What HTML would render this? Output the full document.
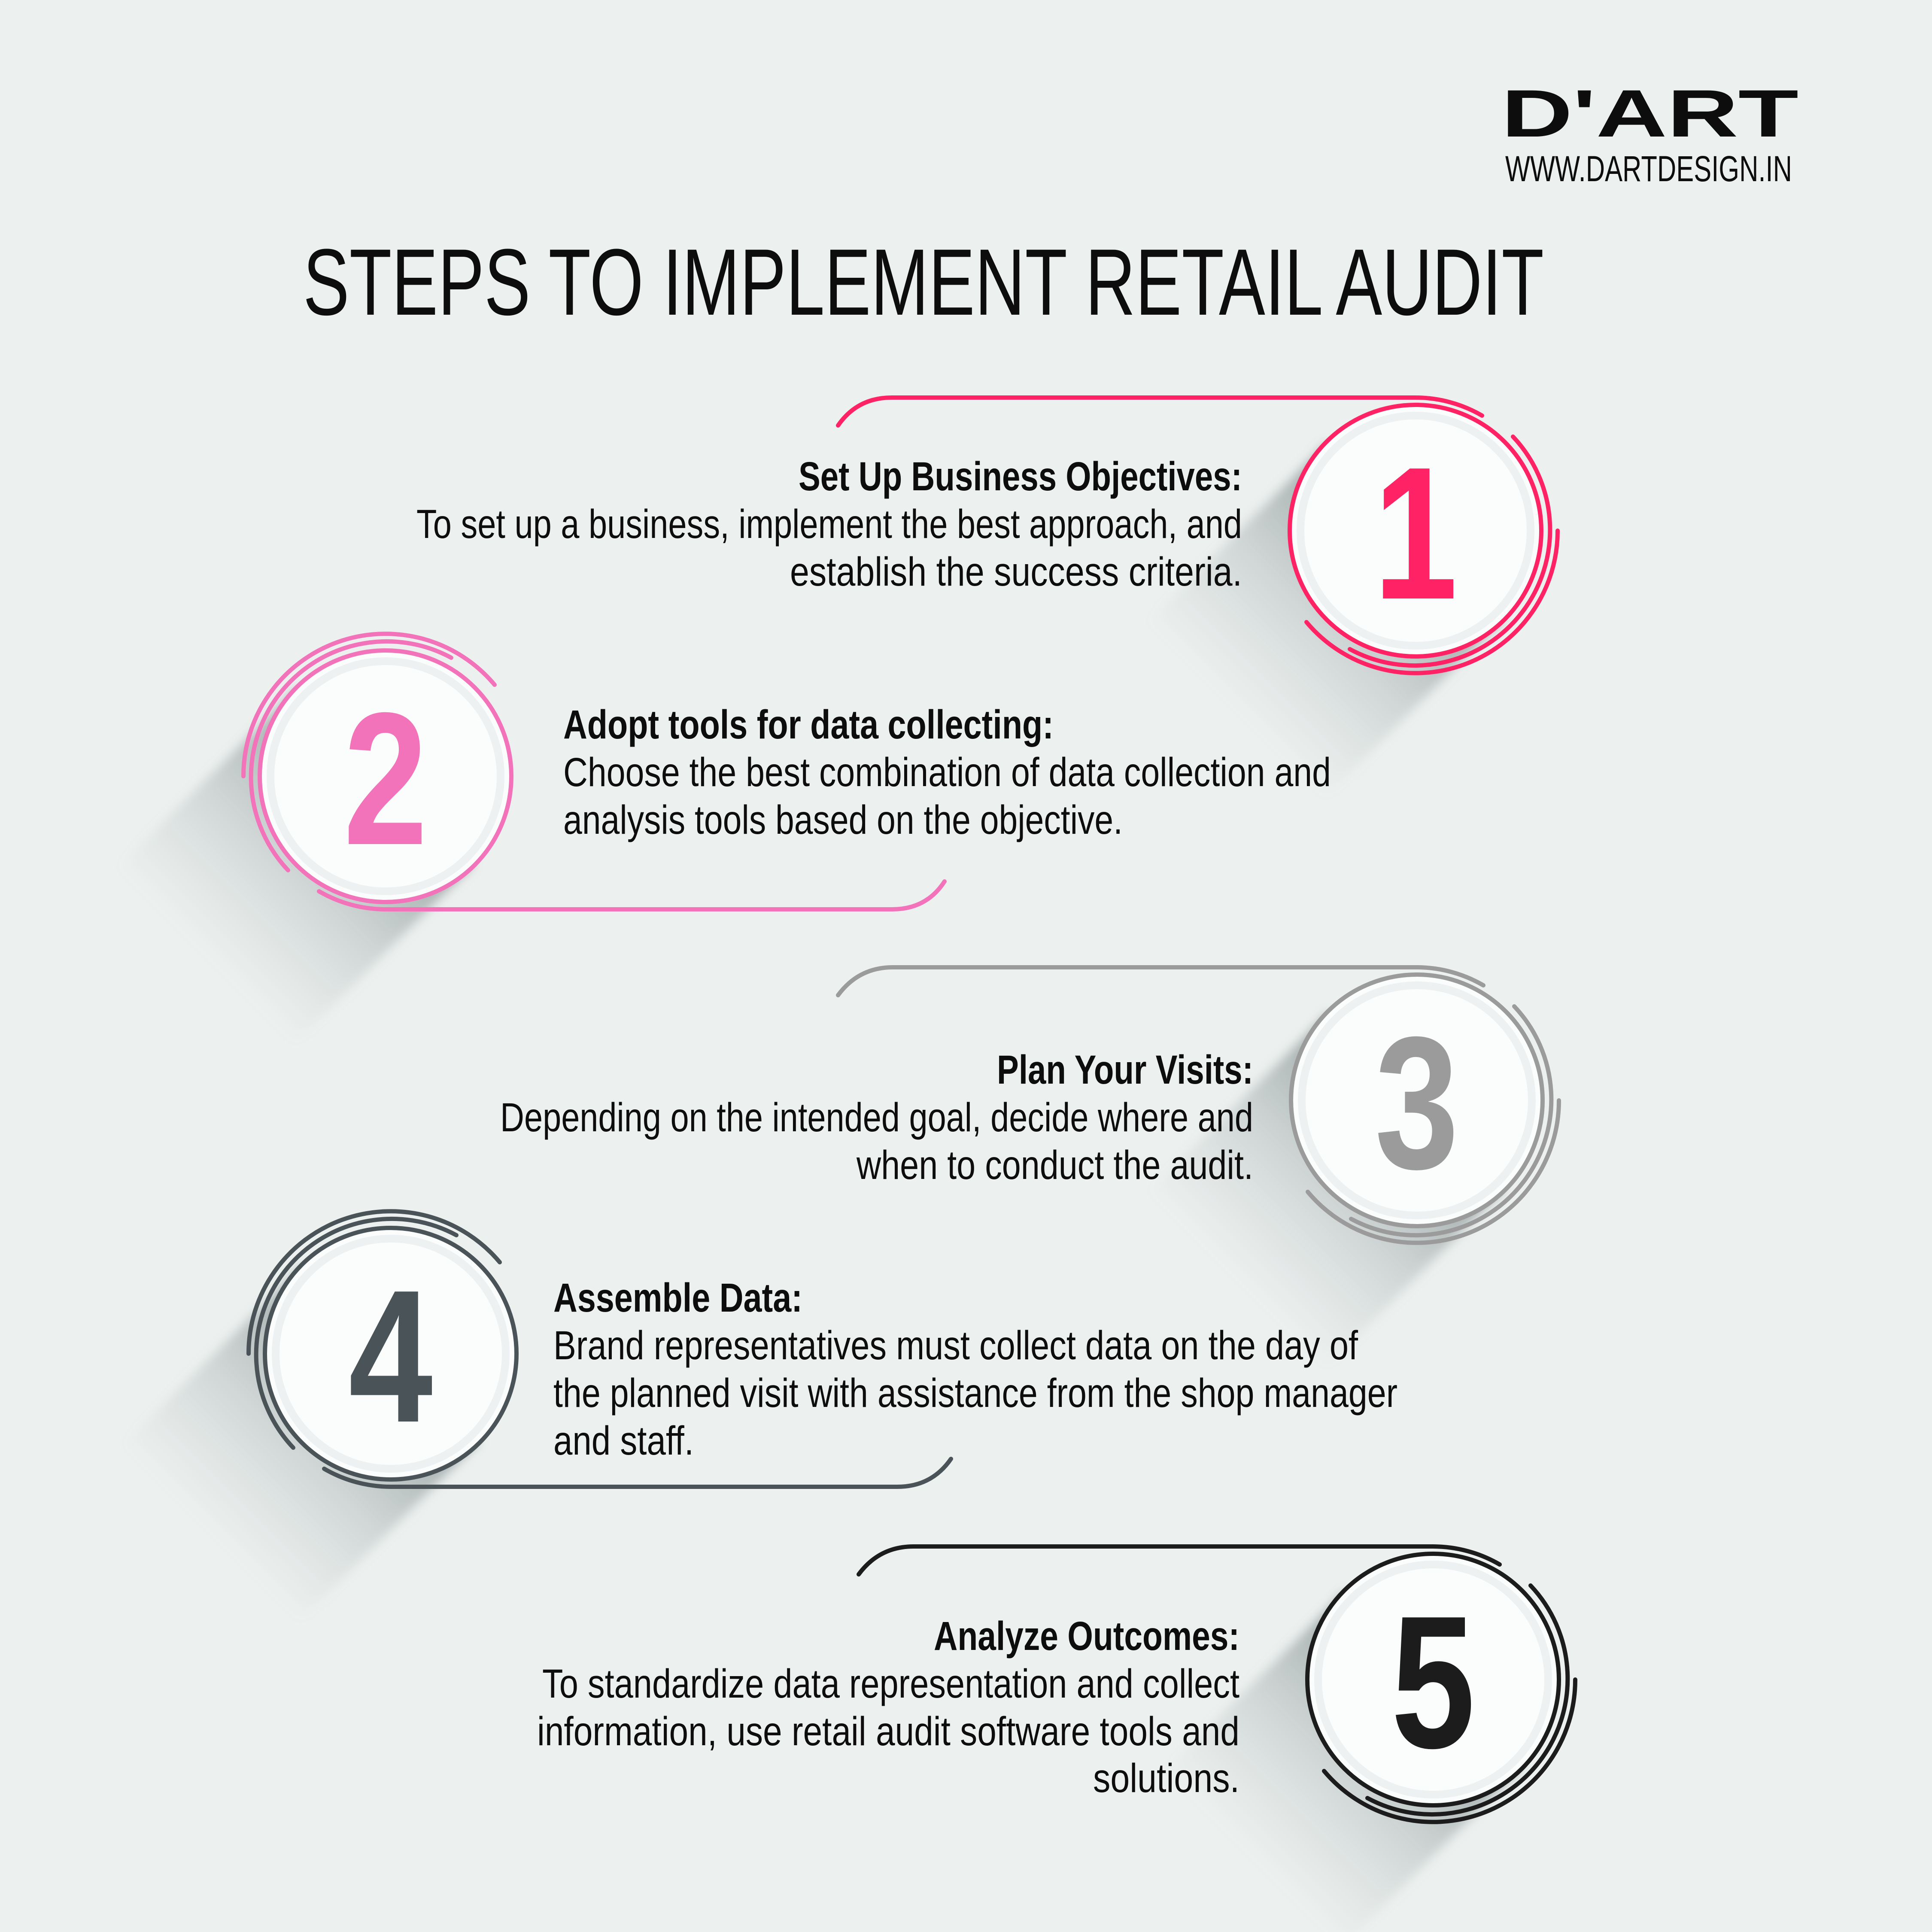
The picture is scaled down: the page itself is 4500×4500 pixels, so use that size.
<!DOCTYPE html>
<html><head><meta charset="utf-8"><style>
html,body{margin:0;padding:0;background:#ecf0ef;}
svg{display:block}
.t{font-family:"Liberation Sans Narrow","Liberation Sans",sans-serif;fill:#0d0d0d;}
.h{font-weight:bold;}
</style></head><body>
<svg width="4500" height="4500" viewBox="0 0 4500 4500" xmlns="http://www.w3.org/2000/svg">
<defs>
<linearGradient id="sg" gradientUnits="userSpaceOnUse" x1="0" y1="0" x2="-420" y2="420">
<stop offset="0" stop-color="#7a8787" stop-opacity="0.75"/>
<stop offset="0.5" stop-color="#95a1a1" stop-opacity="0.35"/>
<stop offset="1" stop-color="#b0b9b9" stop-opacity="0"/>
</linearGradient>
<filter id="bl" x="-50%" y="-50%" width="200%" height="200%"><feGaussianBlur stdDeviation="12"/></filter>
<g id="shadow"><polygon points="-205,-205 205,205 -215,625 -625,215" fill="url(#sg)" filter="url(#bl)"/></g>
</defs>
<rect width="4500" height="4500" fill="#ecf0ef"/>

<!-- Logo -->
<text x="3497" y="318" class="t" style="font-family:'Liberation Sans',sans-serif;font-weight:bold" font-size="156" textLength="692" lengthAdjust="spacingAndGlyphs">D'ART</text>
<text x="3506" y="422" class="t" font-size="84" textLength="668" lengthAdjust="spacingAndGlyphs">WWW.DARTDESIGN.IN</text>

<!-- Title -->
<text x="706" y="733" class="t" font-size="220" textLength="2890" lengthAdjust="spacingAndGlyphs">STEPS TO IMPLEMENT RETAIL AUDIT</text>

<!-- Circle 1 -->
<g transform="translate(3297,1236)">
<use href="#shadow"/>
<circle r="288" fill="#fbfcfc"/><circle r="268" fill="none" stroke="#eef1f2" stroke-width="18"/>
<g transform="rotate(180)" fill="none" stroke="#ff2366" stroke-width="10" stroke-linecap="round">
<circle r="293"/>
<path d="M -227 219 A 316 316 0 0 1 153 -276"/>
<path d="M -331 0 A 331 331 0 0 1 254 -213"/>
<path d="M -155 268 A 310 310 0 0 0 0 310 L 1220 310 Q 1300 310 1345 245"/>
</g>
<text x="0" y="158" text-anchor="middle" font-family="Liberation Sans,sans-serif" font-weight="bold" font-size="440" fill="#ff2366" transform="scale(0.8,1)">1</text>
</g>

<!-- Circle 2 -->
<g transform="translate(898,1808)">
<use href="#shadow"/>
<circle r="288" fill="#fbfcfc"/><circle r="268" fill="none" stroke="#eef1f2" stroke-width="18"/>
<g fill="none" stroke="#f273b9" stroke-width="10" stroke-linecap="round">
<circle r="293"/>
<path d="M -227 219 A 316 316 0 0 1 153 -276"/>
<path d="M -331 0 A 331 331 0 0 1 254 -213"/>
<path d="M -155 268 A 310 310 0 0 0 0 310 L 1180 310 Q 1260 310 1302 245"/>
</g>
<text x="0" y="158" text-anchor="middle" font-family="Liberation Sans,sans-serif" font-weight="bold" font-size="440" fill="#f273b9" transform="scale(0.8,1)">2</text>
</g>

<!-- Circle 3 -->
<g transform="translate(3300,2563)">
<use href="#shadow"/>
<circle r="288" fill="#fbfcfc"/><circle r="268" fill="none" stroke="#eef1f2" stroke-width="18"/>
<g transform="rotate(180)" fill="none" stroke="#9b9b9b" stroke-width="10" stroke-linecap="round">
<circle r="293"/>
<path d="M -227 219 A 316 316 0 0 1 153 -276"/>
<path d="M -331 0 A 331 331 0 0 1 254 -213"/>
<path d="M -155 268 A 310 310 0 0 0 0 310 L 1220 310 Q 1300 310 1348 245"/>
</g>
<text x="0" y="158" text-anchor="middle" font-family="Liberation Sans,sans-serif" font-weight="bold" font-size="440" fill="#9b9b9b" transform="scale(0.8,1)">3</text>
</g>

<!-- Circle 4 -->
<g transform="translate(910,3153)">
<use href="#shadow"/>
<circle r="288" fill="#fbfcfc"/><circle r="268" fill="none" stroke="#eef1f2" stroke-width="18"/>
<g fill="none" stroke="#4a5358" stroke-width="10" stroke-linecap="round">
<circle r="293"/>
<path d="M -227 219 A 316 316 0 0 1 153 -276"/>
<path d="M -331 0 A 331 331 0 0 1 254 -213"/>
<path d="M -155 268 A 310 310 0 0 0 0 310 L 1180 310 Q 1260 310 1305 245"/>
</g>
<text x="0" y="158" text-anchor="middle" font-family="Liberation Sans,sans-serif" font-weight="bold" font-size="440" fill="#4a5358" transform="scale(0.8,1)">4</text>
</g>

<!-- Circle 5 -->
<g transform="translate(3338,3912)">
<use href="#shadow"/>
<circle r="288" fill="#fbfcfc"/><circle r="268" fill="none" stroke="#eef1f2" stroke-width="18"/>
<g transform="rotate(180)" fill="none" stroke="#1c1c1c" stroke-width="10" stroke-linecap="round">
<circle r="293"/>
<path d="M -227 219 A 316 316 0 0 1 153 -276"/>
<path d="M -331 0 A 331 331 0 0 1 254 -213"/>
<path d="M -155 268 A 310 310 0 0 0 0 310 L 1210 310 Q 1290 310 1338 245"/>
</g>
<text x="0" y="158" text-anchor="middle" font-family="Liberation Sans,sans-serif" font-weight="bold" font-size="440" fill="#1c1c1c" transform="scale(0.8,1)">5</text>
</g>

<!-- Text 1 -->
<text x="1860" y="1142" class="t h" font-size="95" textLength="1033" lengthAdjust="spacingAndGlyphs">Set Up Business Objectives:</text>
<text x="970" y="1253" class="t" font-size="95" textLength="1923" lengthAdjust="spacingAndGlyphs">To set up a business, implement the best approach, and</text>
<text x="1840" y="1364" class="t" font-size="95" textLength="1053" lengthAdjust="spacingAndGlyphs">establish the success criteria.</text>

<!-- Text 2 -->
<text x="1312" y="1720" class="t h" font-size="95" textLength="1142" lengthAdjust="spacingAndGlyphs">Adopt tools for data collecting:</text>
<text x="1312" y="1831" class="t" font-size="95" textLength="1788" lengthAdjust="spacingAndGlyphs">Choose the best combination of data collection and</text>
<text x="1312" y="1942" class="t" font-size="95" textLength="1303" lengthAdjust="spacingAndGlyphs">analysis tools based on the objective.</text>

<!-- Text 3 -->
<text x="2322" y="2524" class="t h" font-size="95" textLength="597" lengthAdjust="spacingAndGlyphs">Plan Your Visits:</text>
<text x="1165" y="2635" class="t" font-size="95" textLength="1754" lengthAdjust="spacingAndGlyphs">Depending on the intended goal, decide where and</text>
<text x="1995" y="2746" class="t" font-size="95" textLength="924" lengthAdjust="spacingAndGlyphs">when to conduct the audit.</text>

<!-- Text 4 -->
<text x="1289" y="3055" class="t h" font-size="95" textLength="580" lengthAdjust="spacingAndGlyphs">Assemble Data:</text>
<text x="1289" y="3166" class="t" font-size="95" textLength="1874" lengthAdjust="spacingAndGlyphs">Brand representatives must collect data on the day of</text>
<text x="1289" y="3277" class="t" font-size="95" textLength="1966" lengthAdjust="spacingAndGlyphs">the planned visit with assistance from the shop manager</text>
<text x="1289" y="3388" class="t" font-size="95" textLength="327" lengthAdjust="spacingAndGlyphs">and staff.</text>

<!-- Text 5 -->
<text x="2175" y="3843" class="t h" font-size="95" textLength="712" lengthAdjust="spacingAndGlyphs">Analyze Outcomes:</text>
<text x="1263" y="3954" class="t" font-size="95" textLength="1624" lengthAdjust="spacingAndGlyphs">To standardize data representation and collect</text>
<text x="1251" y="4065" class="t" font-size="95" textLength="1636" lengthAdjust="spacingAndGlyphs">information, use retail audit software tools and</text>
<text x="2546" y="4174" class="t" font-size="95" textLength="341" lengthAdjust="spacingAndGlyphs">solutions.</text>
</svg>
</body></html>
